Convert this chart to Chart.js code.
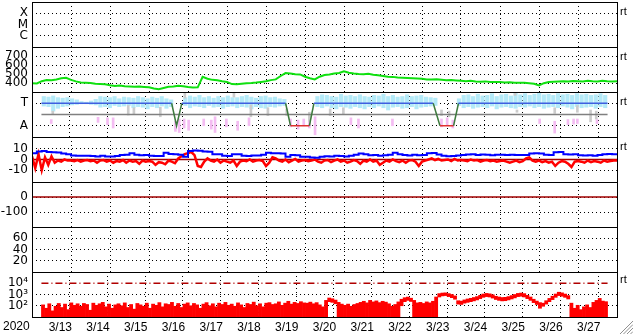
<!DOCTYPE html>
<html><head><meta charset="utf-8">
<script src="https://cdn.jsdelivr.net/npm/chart.js@4.4.1/dist/chart.umd.min.js"></script>
<style>
html,body{margin:0;padding:0;background:#fff;overflow:hidden}
#wrap{position:relative;width:633px;height:334px;background:#fff}
canvas{position:absolute;left:0;top:0}
.rt{position:absolute;left:620px;font:11px/11px "Liberation Sans",sans-serif;color:#000}
.yr{position:absolute;left:3px;top:320px;font:12px/12px "Liberation Sans",sans-serif;color:#000}
</style></head><body>
<div id="wrap">
<canvas id="c0" width="633" height="334"></canvas>
<canvas id="c1" width="633" height="334"></canvas>
<canvas id="c2" width="633" height="334"></canvas>
<canvas id="c3" width="633" height="334"></canvas>
<canvas id="c4" width="633" height="334"></canvas>
<canvas id="c5" width="633" height="334"></canvas>
<canvas id="c6" width="633" height="334"></canvas>
<span class="rt" style="top:6px">rt</span>
<span class="rt" style="top:51px">rt</span>
<span class="rt" style="top:96px">rt</span>
<span class="rt" style="top:141px">rt</span>
<span class="rt" style="top:274px">rt</span>
<span class="yr">2020</span>
</div>
<script>
// ---------------- DATA ----------------
const DAY_LABELS = ['3/13','3/14','3/15','3/16','3/17','3/18','3/19','3/20','3/21','3/22','3/23','3/24','3/25','3/26','3/27'];
const FLARE_LABELS = {1:'C', 2:'M', 3:'X'};
const SECTOR_LABELS = {1:'A', 3:'T'};
const SECTOR_LEVEL = {T:3, A:1};
const LOG_LABELS = {100:'10\u00B2', 1000:'10\u00B3', 10000:'10\u2074'};

// solar wind speed, 3-hour steps
const SPEED = [397,395,420,432,430,438,452,458, 435,418,405,402,400,392,388,385,
  375,368,372,365,362,358,360,356, 352,340,332,345,358,362,370,365,
  355,350,352,468,448,435,430,420, 412,388,385,392,398,400,405,412,
  420,432,440,478,510,505,498,495, 470,452,440,470,488,495,505,512,
  530,515,505,500,498,502,492,485, 478,470,468,462,458,455,452,450,
  446,440,438,442,436,430,432,428, 425,420,425,418,415,418,412,410,
  412,405,408,402,404,402,398,392, 372,398,412,415,418,420,416,422,
  420,418,424,420,418,425,420,418, 420];

// IMF direction band (toward side), 3-hour bins
const DIR_LOW = [2.75,2.7,2.3,2.55,2.7,2.75,2.85,2.9, 2.95,2.95,2.9,2.85,2.65,2.7,2.6,2.8,
  2.7,2.75,2.8,2.6,2.7,2.65,2.5,2.7, 2.6,2.75,2.55,2.7,null,null,2.8,2.6,
  2.75,2.7,2.6,2.8,2.65,2.7,2.55,2.7, 2.75,2.6,2.7,2.65,2.5,2.7,2.6,2.55,
  2.7,2.65,2.75,2.8,null,null,null,null, null,null,2.7,2.6,2.75,2.6,2.5,2.7,
  2.65,2.55,2.7,2.6,2.5,2.7,2.6,2.75, 2.6,2.4,2.65,2.7,2.55,2.6,2.7,2.5,
  2.65,2.7,2.75,2.8,null,null,null,null, 2.8,2.6,2.7,2.55,2.65,2.7,2.6,2.75,
  2.5,2.65,2.7,2.6,2.55,2.7,2.65,2.75, 2.6,2.7,2.55,2.65,2.7,2.6,2.75,2.65,
  2.5,2.7,2.6,2.65,2.7,2.55,2.7,2.6];
const DIR_HIGH = [3.6,3.55,3.65,3.5,3.45,3.5,3.4,3.3, 3.15,3.1,3.2,3.35,3.6,3.55,3.5,3.6,
  3.4,3.55,3.5,3.45,3.6,3.5,3.4,3.55, 3.45,3.6,3.4,3.3,null,null,3.5,3.65,
  3.55,3.7,3.5,3.6,3.45,3.6,3.5,3.65, 3.5,3.5,3.6,3.7,3.55,3.45,3.6,3.65,
  3.5,3.55,3.4,3.35,null,null,null,null, null,null,3.6,3.75,3.7,3.6,3.55,3.8,
  3.65,3.7,3.6,3.75,3.6,3.55,3.7,3.65, 3.8,3.6,3.7,3.55,3.6,3.75,3.6,3.65,
  3.7,3.55,3.5,3.45,null,null,null,null, 3.4,3.7,3.75,3.6,3.8,3.65,3.7,3.85,
  3.6,3.75,3.8,3.65,3.9,3.75,3.85,3.7, 3.8,3.9,3.75,3.8,3.7,3.85,3.75,3.8,
  3.7,3.85,3.75,3.8,3.7,3.75,3.85,3.7];

// away-side streaks
const AWAY_TIME = [0.26,1.5,1.75,1.9,3.55,3.65,3.78,3.9,4.3,4.5,4.6,4.9,5.2,5.5,6.6,6.8,6.95,7.1,7.25,8.2,8.4,9.3,10.6,10.75,10.9,13.2,13.6,13.95,14.1,14.2,14.72];
const AWAY_LOW = [1.2,1.3,1.1,0.8,0.5,0.4,0.8,0.6,1.0,0.7,0.4,0.9,0.6,1.0,0.9,0.7,1.0,0.8,0.2,1.1,0.8,1.0,0.9,1.1,0.8,1.2,0.35,1.1,1.15,1.2,1.2];
const AWAY_HIGH = [1.55,1.75,1.7,1.7,1.4,1.6,1.6,1.5,1.6,1.5,1.8,1.6,1.4,1.7,1.6,1.5,1.6,1.4,1.8,1.7,1.6,1.6,1.6,1.7,1.5,1.6,1.4,1.55,1.6,1.6,1.55];

// mixed-direction streaks
const MIX_TIME = [0.3,2.3,2.45,3.15,3.8,5.1,5.55,6.0,6.5,7.1,7.65,8.0,10.6,10.8,12.55,12.6,13.6,14.2,14.55,14.7];
const MIX_LOW = [2.0,1.95,2.0,1.8,3.45,3.55,1.8,1.9,1.9,1.4,1.9,2.0,1.9,1.8,3.7,2.2,2.1,2.2,1.35,1.6];
const MIX_HIGH = [2.3,2.8,2.6,2.65,3.9,3.9,2.85,2.6,2.5,2.2,2.5,2.6,2.4,2.3,4.0,2.4,2.6,2.8,2.4,2.3];

// sector polarity
const SECTOR_TIME = [0,3.45,3.58,3.72,6.47,6.6,7.1,7.22,10.38,10.56,10.92,11.05,15];
const SECTOR_POL = ['T','T','A','T','T','A','A','T','T','A','A','T','T'];

// IMF Bt, 3-hour steps
const BT = [5.8,7.5,8.0,7.0,6.7,6.5,5.5,4.8, 3.8,3.5,3.4,3.6,3.2,2.9,3.5,2.8,
  2.7,3.2,4.2,4.5,5.8,4.5,4.0,4.2, 3.4,3.3,3.2,6.4,5.2,5.0,4.5,2.6,
  8.0,8.3,8.2,7.4,7.2,5.0,4.8,3.4, 3.3,4.8,4.9,3.4,3.3,3.7,3.8,4.5,
  6.4,5.9,5.8,5.6,2.6,4.2,4.0,2.6, 2.6,1.8,1.7,2.5,3.0,2.8,3.5,3.2,
  2.9,3.4,4.5,5.5,4.8,3.9,4.2,3.6, 4.0,4.4,6.2,5.0,4.1,3.8,4.5,4.0,
  4.3,5.8,6.0,4.6,3.5,3.1,3.3,3.7, 4.1,4.6,4.8,4.3,4.7,4.5,4.0,4.4,
  4.5,4.2,4.4,4.1,4.2,4.3,5.6,5.9, 5.7,4.4,4.1,6.8,7.1,5.0,4.7,4.8,
  4.0,3.8,3.9,3.6,4.2,5.0,5.2,5.0, 5.0];

// IMF Bz, 2-hour steps
const BZ = [3,-8,5,-10,2,-5,3,-3,-1,-2,0,-1,
  -1,-1.5,-0.5,-2,-1,-0.5,-1.5,-1,-3,-1,-0.5,-2,
  -1,-3,-1.5,-2,-0.5,-3,-1,-2,-1.5,-4,-1,-2,
  -1.5,-2,-5,-2.5,-3,-4.5,-1,-2,-3.5,1,3,5,
  6,7,4,-6,-7,-2,1,-1,-2,0,-3,-1,
  -2,-3,-1,-6,-2,-1,-1.5,0,-2,-1,-0.5,-1.5,
  -6,-3,2,1,-1,-2,0,-2.5,-1,0.5,-2,-1,
  -0.5,-1.5,-1,0,-2,-3,-1,-0.5,-2.5,-1,0,-2,
  -1,-3,-2,-0.5,-1.5,-4,-1,-2,0,-2,-1,-5,
  -3,-1,-2,0,-1.5,-2.5,-1,-3,-1,-0.5,-2,-6,
  -2,-1,0,1,-0.5,0.5,-1,-0.5,0,-1.5,0.5,-1,
  -0.5,-1,-1.5,0,-1,-0.5,-2,-1,-0.5,-1.5,-1,-2,
  -1.5,-1,-2,-3,-2,-1,-2.5,-1.5,1,2,-1,-2,
  -1,-2.5,-1.5,-3,-2,-6,-3,-1.5,-2,-4,-7,-2,
  -1.5,-2,-3,-1,-2.5,-1.5,-2,-3,-1,-2,-1.5,-1, -1];

// particle flux, 2-hour bins (min 0 = down to the axis)
const FLUX_HIGH = [120,60,150,35,90,160,70,140,45,180,110,150,
  90,160,130,40,170,110,150,200,80,140,60,120,
  150,100,180,70,130,50,160,120,90,170,60,140,
  110,190,80,150,130,200,90,160,70,140,180,100,
  160,120,60,140,190,100,150,80,170,130,200,110,
  140,90,180,120,70,160,130,210,100,150,80,170,
  190,130,150,220,110,170,250,140,200,160,230,180,
  170,210,150,190,120,80,300,490,420,320,200,140,
  110,140,90,130,160,200,250,180,300,220,270,190,
  250,210,150,90,130,220,380,520,590,470,300,180,
  200,160,220,180,250,600,1200,1350,1400,1200,1000,750,
  280,260,330,400,460,540,650,850,1100,1250,1150,950,
  700,600,540,560,650,800,1000,1250,1350,1200,850,600,
  380,260,190,170,280,450,700,1100,1600,1400,1100,800,
  170,60,110,45,80,120,70,200,300,450,260,230];
const FLUX_LOW = [0,0,0,0,0,0,0,0,0,0,0,0, 0,0,0,0,0,0,0,0,0,0,0,0,
  0,0,0,0,0,0,0,0,0,0,0,0, 0,0,0,0,0,0,0,0,0,0,0,0,
  0,0,0,0,0,0,0,0,0,0,0,0, 0,0,0,0,0,0,0,0,0,0,0,0,
  0,0,0,0,0,0,0,0,0,0,0,0,
  0,0,0,0,0,0,0,230,200,150,0,0,
  0,0,0,0,0,0,0,0,0,0,0,0,
  0,0,0,0,0,0,100,230,300,240,0,0,
  0,0,0,0,0,0,600,750,800,650,520,380,
  140,130,170,200,230,270,330,430,560,650,600,480,
  360,300,270,280,330,400,500,650,700,600,430,300,
  190,130,60,90,140,230,350,560,800,700,560,400,
  0,0,0,0,0,0,0,0,0,0,0,0];
const FLUX_ALERT = 10000;

// ---------------- LAYOUT ----------------
const W = 633, H = 334, LEFT = 32, RIGHT = 617, TOP = 2, PANEL_H = 45, NPANEL = 7;
const END = DAY_LABELS.length;

function series(values, stepH) {
  return values.map((v, i) => ({x: i * stepH / 24, y: v}));
}
function bins(lows, highs, stepH) {
  const out = [];
  highs.forEach((h, i) => {
    if (h == null) return;
    const lo = lows[i];
    out.push({x: (i + 0.5) * stepH / 24, y: lo ? [lo, h] : h});
  });
  return out;
}
function streaks(times, lows, highs) {
  return times.map((t, i) => ({x: t, y: [lows[i], highs[i]]}));
}
function level(v) { return [{x: 0, y: v}, {x: END, y: v}]; }

const framePlugin = {
  id: 'frame',
  afterDraw(chart) {
    const {ctx, chartArea: a} = chart;
    ctx.save();
    ctx.strokeStyle = '#000'; ctx.lineWidth = 1; ctx.setLineDash([]);
    ctx.strokeRect(a.left + 0.5, a.top + 0.5, a.right - a.left, a.bottom - a.top);
    if (chart.canvas.id === 'c6') {
      ctx.strokeStyle = '#909090';
      for (let k = 0; k < 4; k++) {
        ctx.beginPath();
        ctx.moveTo(620 + k * 3.5, 334); ctx.lineTo(633, 321 + k * 3.5); ctx.stroke();
      }
    }
    ctx.restore();
  }
};
Chart.register(framePlugin);

function xScale(bottom) {
  return {
    type: 'linear', min: 0, max: END,
    afterBuildTicks: s => {
      const t = [];
      DAY_LABELS.forEach((l, i) => { t.push({value: i}); t.push({value: i + 0.5}); });
      t.push({value: END});
      s.ticks = t;
    },
    afterFit: s => { s.height = bottom ? H - (TOP + NPANEL * PANEL_H) : 0; s.paddingLeft = 0; s.paddingRight = 0; },
    border: {display: false, dash: [1, 3]},
    grid: {drawTicks: false, lineWidth: 1,
      color: c => (c.tick && Number.isInteger(c.tick.value)) ? '#000' : 'rgba(0,0,0,0)'},
    ticks: {display: bottom, autoSkip: false, maxRotation: 0, minRotation: 0, padding: 3, color: '#000',
      font: {family: 'Liberation Sans', size: 12},
      callback: v => Number.isInteger(v) ? '' : DAY_LABELS[Math.floor(v)]}
  };
}
function yScale(cfg) {
  const hide = cfg.hideGrid || [];
  return {
    type: cfg.type || 'linear', position: 'left', min: cfg.min, max: cfg.max,
    afterFit: s => { s.width = LEFT; s.paddingTop = 0; s.paddingBottom = 0; },
    afterBuildTicks: s => { s.ticks = cfg.ticks.map(v => ({value: v})); },
    border: {display: false, dash: [1, 3]},
    grid: {drawTicks: false, lineWidth: 1,
      color: c => (c.tick && hide.indexOf(c.tick.value) < 0) ? '#000' : 'rgba(0,0,0,0)'},
    ticks: {padding: 4, color: '#000', autoSkip: false, font: {family: 'DejaVu Sans', size: 12},
      callback: v => cfg.labels ? (cfg.labels[v] || '') : String(v)}
  };
}
function panel(idx, y, datasets) {
  const bottom = idx === NPANEL - 1;
  const top = TOP + idx * PANEL_H, bot = top + PANEL_H;
  return new Chart(document.getElementById('c' + idx), {
    type: 'line',
    data: {datasets},
    options: {
      responsive: false, animation: false, events: [], devicePixelRatio: 1,
      layout: {padding: {top: top, left: 0, right: W - RIGHT, bottom: bottom ? 0 : H - bot}},
      plugins: {legend: {display: false}, tooltip: {enabled: false}},
      elements: {point: {radius: 0}, line: {tension: 0}},
      scales: {x: xScale(bottom), y: yScale(y)}
    }
  });
}

// 0: flare classes (no events)
panel(0, {min: 0, max: 4, ticks: [1, 2, 3], labels: FLARE_LABELS}, []);

// 1: speed
panel(1, {min: 300, max: 800, ticks: [400, 500, 600, 700]}, [
  {data: series(SPEED, 3), borderColor: '#10e010', borderWidth: 2, pointRadius: 0}
]);

// 2: sector / direction
panel(2, {min: 0, max: 4, ticks: [1, 3], labels: SECTOR_LABELS}, [
  {data: SECTOR_TIME.map((t, i) => ({x: t, y: SECTOR_LEVEL[SECTOR_POL[i]]})), borderWidth: 1.5, pointRadius: 0,
   borderColor: '#3f5fe0',
   segment: {borderColor: c => {
     const a = c.p0.parsed.y, b = c.p1.parsed.y;
     return a === b ? (a === SECTOR_LEVEL.T ? '#3f5fe0' : '#e03030') : '#3d7a3d';
   }}},
  {data: level(2), borderColor: '#808080', borderWidth: 1.5, pointRadius: 0},
  {type: 'bar', data: streaks(MIX_TIME, MIX_LOW, MIX_HIGH), backgroundColor: '#cccccc', barThickness: 2, grouped: false},
  {type: 'bar', data: streaks(AWAY_TIME, AWAY_LOW, AWAY_HIGH), backgroundColor: '#f4bcf2', barThickness: 2, grouped: false},
  {type: 'bar', data: bins(DIR_LOW, DIR_HIGH, 3), backgroundColor: '#b4eaf8', barThickness: 3.5, grouped: false}
]);

// 3: Bt / Bz
panel(3, {min: -21, max: 21, ticks: [-10, 0, 10]}, [
  {data: series(BT, 3), borderColor: '#0000ff', borderWidth: 2, pointRadius: 0, stepped: true},
  {data: series(BZ, 2), borderColor: '#ff0000', borderWidth: 2.5, pointRadius: 0},
  {data: level(0), borderColor: '#a00000', borderWidth: 1.5, pointRadius: 0}
]);

// 4: Dst (no data)
panel(4, {min: -200, max: 100, ticks: [-100, 0]}, [
  {data: level(0), borderColor: '#a00000', borderWidth: 1.5, pointRadius: 0}
]);

// 5: empty
panel(5, {min: 0, max: 80, ticks: [20, 40, 60]}, []);

// 6: flux (log)
panel(6, {type: 'logarithmic', min: 10, max: 100000, ticks: [100, 1000, 10000], labels: LOG_LABELS, hideGrid: [10000]}, [
  {data: level(FLUX_ALERT), borderColor: '#b00000', borderWidth: 1.5, pointRadius: 0, borderDash: [7, 3, 1, 3]},
  {type: 'bar', data: bins(FLUX_LOW, FLUX_HIGH, 2), backgroundColor: '#ff0000', barPercentage: 1, categoryPercentage: 1, grouped: false}
]);
</script>
</body></html>
